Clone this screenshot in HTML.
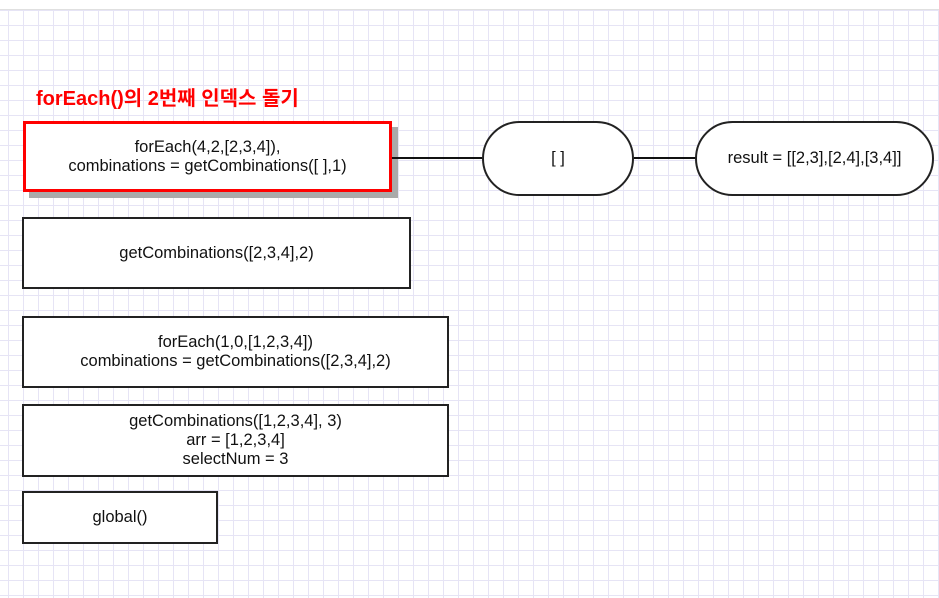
<!DOCTYPE html>
<html><head><meta charset="utf-8"><style>
body{margin:0;width:939px;height:597px;overflow:hidden;background:#fff;font-family:"Liberation Sans","Noto Sans CJK KR",sans-serif;position:relative}
.grid{position:absolute;left:0;top:9px;width:939px;height:588px;background-image:linear-gradient(#e6e4f5 1px,transparent 1px),linear-gradient(90deg,#e6e4f5 1px,transparent 1px);background-size:15px 15px;background-position:0 0,8px 0;border-top:1px solid #e0e0e0}
.b{position:absolute;box-sizing:border-box;border:2px solid #222;background:#fff;display:flex;align-items:center;justify-content:center;text-align:center;font-size:16.5px;line-height:19px;color:#111}
.l{position:absolute;height:2px;background:#111}
</style></head><body>
<div class="grid"></div>
<div style="position:absolute;left:36px;top:82px;color:#f00;font-weight:bold;font-size:20px">forEach()의 2번째 인덱스 돌기</div>
<div style="position:absolute;left:29px;top:127px;width:369px;height:71px;background:#aaa"></div>
<div class="b" style="left:23px;top:121px;width:369px;height:71px;border:3px solid #f00">forEach(4,2,[2,3,4]),<br>combinations = getCombinations([ ],1)</div>
<div class="l" style="left:392px;top:157px;width:90px"></div>
<div class="b" style="left:482px;top:121px;width:152px;height:75px;border-radius:38px">[ ]</div>
<div class="l" style="left:634px;top:157px;width:62px"></div>
<div class="b" style="left:695px;top:121px;width:239px;height:75px;border-radius:38px">result = [[2,3],[2,4],[3,4]]</div>
<div class="b" style="left:22px;top:217px;width:389px;height:72px">getCombinations([2,3,4],2)</div>
<div class="b" style="left:22px;top:316px;width:427px;height:72px">forEach(1,0,[1,2,3,4])<br>combinations = getCombinations([2,3,4],2)</div>
<div class="b" style="left:22px;top:404px;width:427px;height:73px">getCombinations([1,2,3,4], 3)<br>arr = [1,2,3,4]<br>selectNum = 3</div>
<div class="b" style="left:22px;top:491px;width:196px;height:53px">global()</div>
</body></html>
